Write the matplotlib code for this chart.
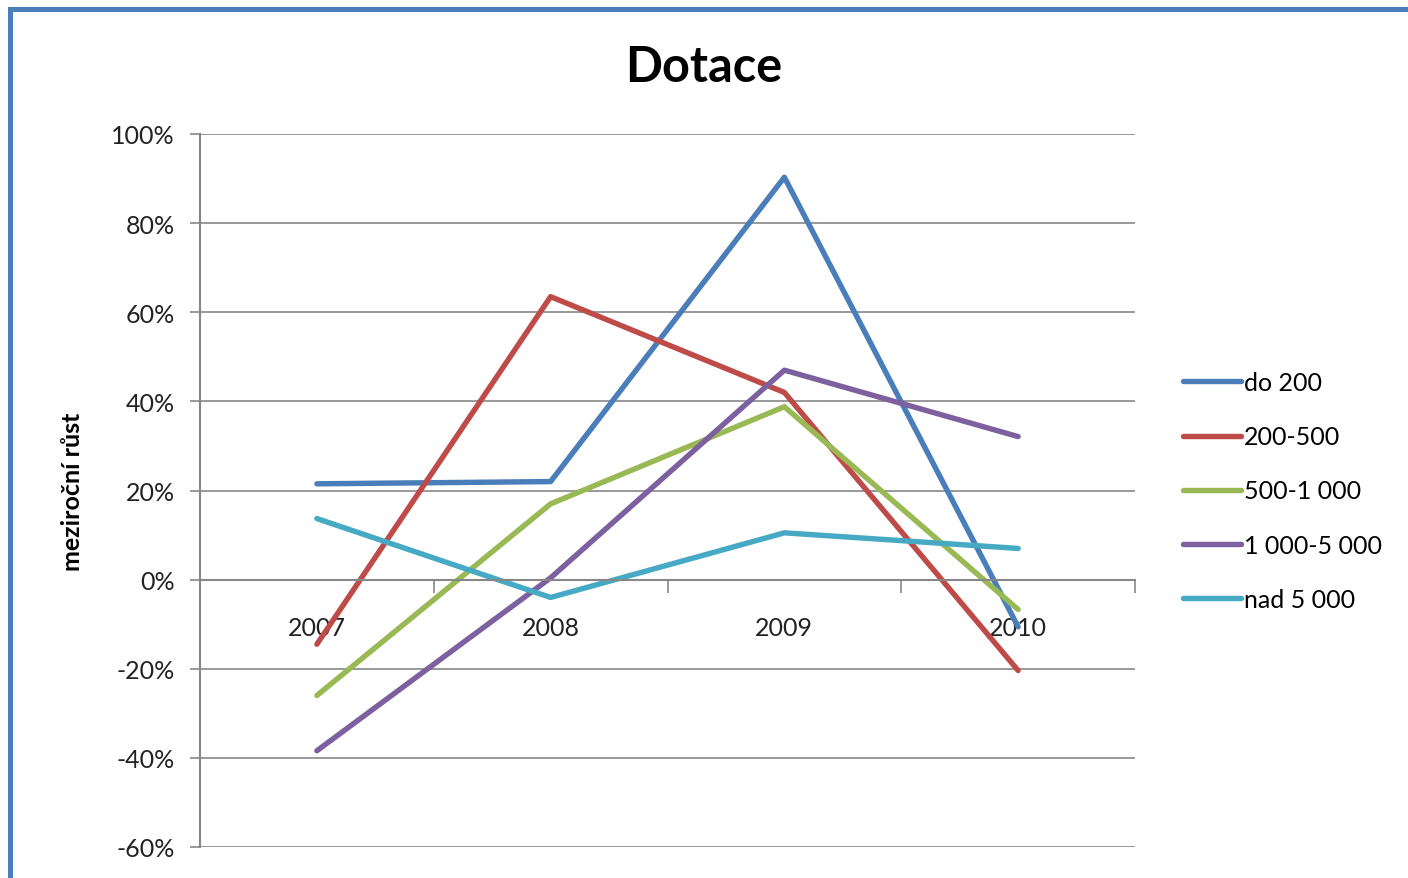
import matplotlib.pyplot as plt
from matplotlib.patches import Rectangle
from matplotlib.ticker import PercentFormatter, FixedLocator, NullFormatter

plt.rcParams['font.family'] = ['Lato', 'DejaVu Sans']
plt.rcParams['axes.unicode_minus'] = False

# data (year-on-year growth, %)
roky = ['2007', '2008', '2009', '2010']
do_200 = [21.5, 22.0, 90.3, -10.6]
r200_500 = [-14.5, 63.5, 42.0, -20.4]
r500_1000 = [-26.0, 17.0, 38.8, -6.7]
r1000_5000 = [-38.4, 0.4, 47.0, 32.1]
nad_5000 = [13.7, -4.0, 10.5, 7.0]

serie = [
    ('do 200', do_200, '#4A7EBB'),
    ('200-500', r200_500, '#BE4B48'),
    ('500-1 000', r500_1000, '#98B954'),
    ('1 000-5 000', r1000_5000, '#7D60A0'),
    ('nad 5 000', nad_5000, '#46AAC5'),
]

fig = plt.figure(figsize=(14.08, 8.79), dpi=100)
ax = fig.add_axes([200 / 1408, 1 - 848 / 879, 935 / 1408, 713 / 879])

x = range(len(roky))
for nazev, hodnoty, barva in serie:
    ax.plot(x, hodnoty, color=barva, lw=3.9, label=nazev, solid_capstyle='round')

seda = '#878787'
ax.set_ylim(-60, 100)
ax.set_xlim(-0.5, len(roky) - 0.5)
ax.set_yticks(range(-60, 101, 20))
ax.yaxis.set_major_formatter(PercentFormatter(decimals=0))
ax.grid(axis='y', color=seda, lw=1.2)
ax.set_axisbelow(True)

# category axis sitting on the zero line
ax.spines['bottom'].set_position(('data', 0))
ax.spines['bottom'].set_color(seda)
ax.spines['bottom'].set_linewidth(1.5)
ax.spines['left'].set_color(seda)
ax.spines['left'].set_linewidth(1.5)
ax.spines['top'].set_visible(False)
ax.spines['right'].set_visible(False)

ax.xaxis.set_major_locator(FixedLocator([i - 0.5 for i in range(len(roky) + 1)]))
ax.xaxis.set_major_formatter(NullFormatter())
ax.set_xticks(list(x), roky, minor=True)
ax.tick_params(axis='x', which='major', direction='out', length=9, width=1.2, color=seda)
ax.tick_params(axis='x', which='minor', length=0, pad=26, labelsize=18, labelcolor='#222222')
ax.tick_params(axis='y', direction='out', length=7, width=1.2, color=seda,
               pad=11, labelsize=18, labelcolor='#222222')

ax.set_ylabel('meziroční růst', fontsize=18, fontweight='bold', labelpad=20)
fig.suptitle('Dotace', fontsize=35, fontweight='bold', y=1 - 45 / 879, va='top')

ax.legend(loc='center left', bbox_to_anchor=(1183 / 1408, 1 - 492 / 879),
          bbox_transform=fig.transFigure, frameon=False, fontsize=18,
          handlelength=2.3, handletextpad=0.12, labelspacing=1.25,
          borderpad=0, borderaxespad=0)

# blue frame around the chart
fig.patches.append(Rectangle((10 / 1408, -0.1), 1.2, 1.1 - 10 / 879,
                             transform=fig.transFigure, fill=False,
                             edgecolor='#4A7EBB', lw=3.6, clip_on=False))

fig.savefig('out.png', dpi=100)
